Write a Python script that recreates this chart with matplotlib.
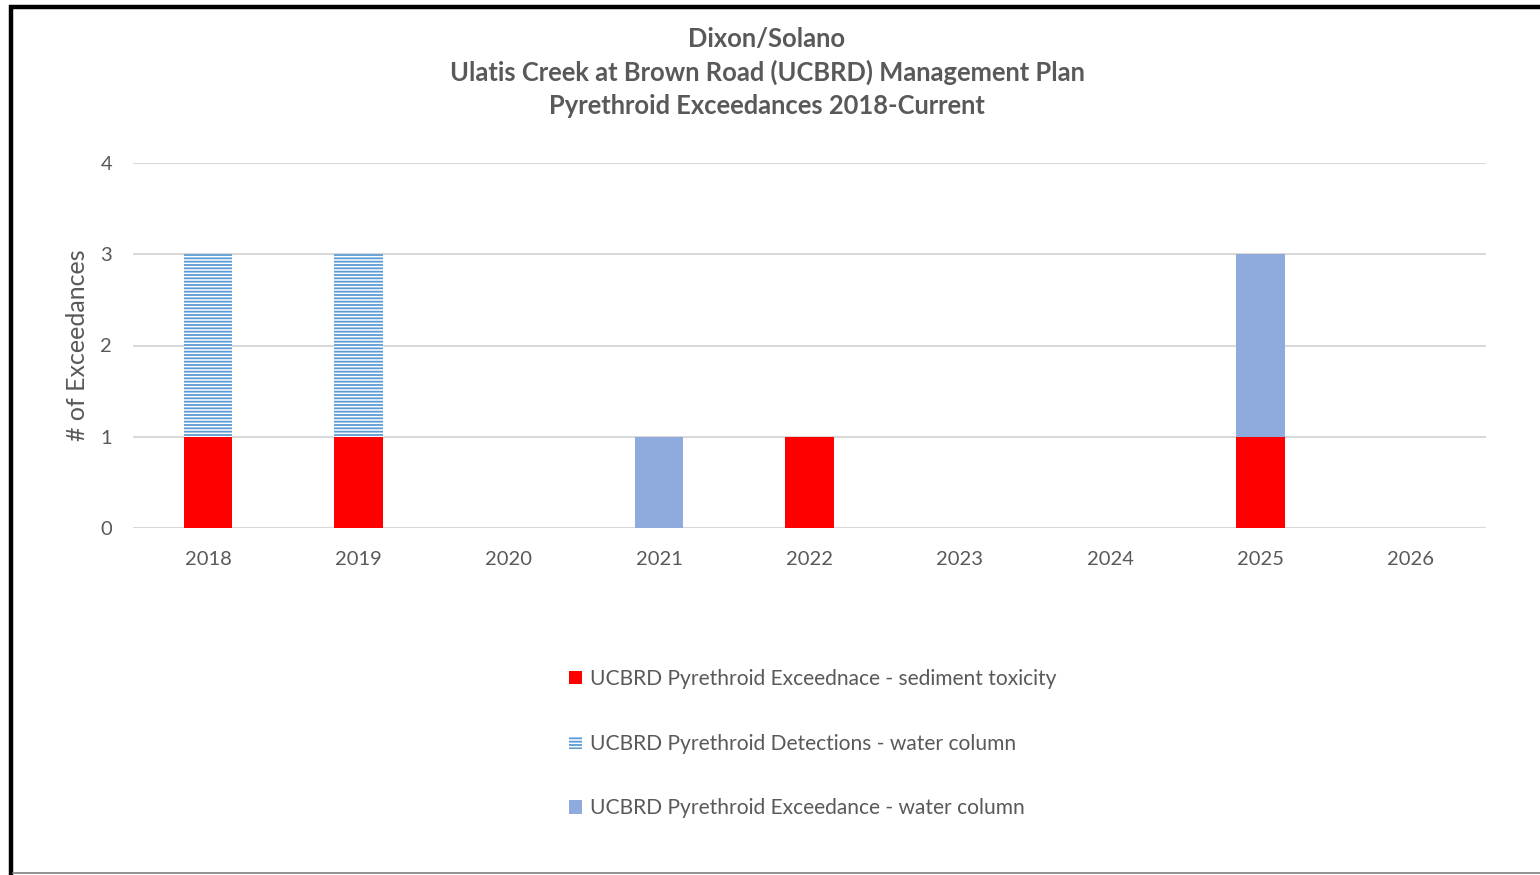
import matplotlib
matplotlib.use("Agg")
import matplotlib.pyplot as plt
from matplotlib.patches import Patch
from matplotlib.lines import Line2D
import numpy as np

plt.rcParams['font.family'] = ['Lato', 'DejaVu Sans']
plt.rcParams['hatch.linewidth'] = 1.3

years = ["2018", "2019", "2020", "2021", "2022", "2023", "2024", "2025", "2026"]
sediment_tox = [1, 1, 0, 0, 1, 0, 0, 1, 0]
wc_detections = [2, 2, 0, 0, 0, 0, 0, 0, 0]
wc_exceedance = [0, 0, 0, 1, 0, 0, 0, 2, 0]
labels = ["UCBRD Pyrethroid Exceednace - sediment toxicity",
          "UCBRD Pyrethroid Detections - water column",
          "UCBRD Pyrethroid Exceedance - water column"]
title_lines = ["Dixon/Solano",
               "Ulatis Creek at Brown Road (UCBRD) Management Plan",
               "Pyrethroid Exceedances 2018-Current"]

RED = "#FF0000"
HBLUE = "#5B9BD5"
LBLUE = "#8FAADC"
GRAY = "#595959"

W, H = 1540, 875
fig = plt.figure(figsize=(W / 100, H / 100), dpi=100)
ax = fig.add_axes([133 / W, 1 - 528 / H, (1486 - 133) / W, (528 - 163) / H])

x = np.arange(len(years))
bw = 0.32
sed = np.array(sediment_tox, dtype=float)
det = np.array(wc_detections, dtype=float)
exc = np.array(wc_exceedance, dtype=float)

ax.bar(x, sed, bw, color=RED, linewidth=0, zorder=3)
ax.bar(x, det, bw, bottom=sed, facecolor="white", edgecolor=HBLUE,
       hatch="-----", linewidth=0, zorder=3)
ax.bar(x, exc, bw, bottom=sed + det, color=LBLUE, linewidth=0, zorder=3)

ax.set_xlim(-0.5, len(years) - 0.5)
ax.set_ylim(0, 4)
ax.set_yticks([0, 1, 2, 3, 4])
ax.set_xticks(x)
ax.set_xticklabels(years)
ax.grid(axis="y", color="#D9D9D9", linewidth=1.5, zorder=0)
for s in ax.spines.values():
    s.set_visible(False)
ax.tick_params(axis="both", length=0, labelsize=14.5, labelcolor=GRAY)
ax.tick_params(axis="x", pad=16.5)
ax.tick_params(axis="y", pad=15)
ax.set_ylabel("# of Exceedances", fontsize=18, color=GRAY, labelpad=8)

for i, t in enumerate(title_lines):
    fig.text(767 / W, 1 - (38.5 + 34 * i) / H, t, ha="center", va="center",
             fontsize=18.4, fontweight="bold", color=GRAY)

handles = [Patch(facecolor=RED, linewidth=0),
           Patch(facecolor="white", edgecolor=HBLUE, hatch="-----", linewidth=0),
           Patch(facecolor=LBLUE, linewidth=0)]
leg = fig.legend(handles, labels, loc="upper left",
                 bbox_to_anchor=(569 / W, 1 - 669 / H),
                 frameon=False, fontsize=15.1, labelspacing=2.13,
                 handlelength=0.6, handleheight=0.6, handletextpad=0.4,
                 borderpad=0, borderaxespad=0)
for t in leg.get_texts():
    t.set_color(GRAY)

# frame lines
fig.add_artist(Line2D([11 / W, 11 / W], [0, 1 - 5 / H], transform=fig.transFigure,
                      color="black", linewidth=3.2, solid_capstyle="butt"))
fig.add_artist(Line2D([9 / W, 1], [1 - 7 / H, 1 - 7 / H], transform=fig.transFigure,
                      color="black", linewidth=3.2, solid_capstyle="butt"))
fig.add_artist(Line2D([13 / W, 1], [1 - 873 / H, 1 - 873 / H], transform=fig.transFigure,
                      color="#808080", linewidth=1.2))

fig.savefig("out.png", dpi=100, facecolor="white")
